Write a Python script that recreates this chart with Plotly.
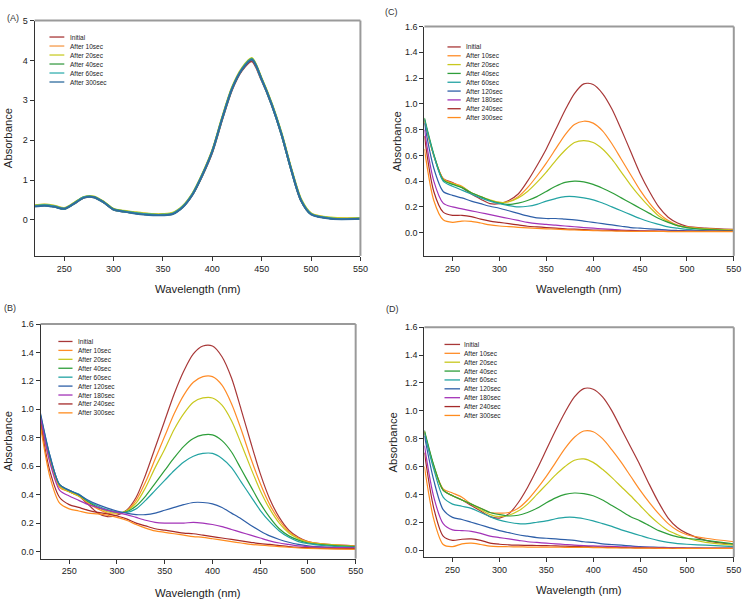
import plotly.graph_objects as go

W, H = 750, 599
FONT = "Liberation Sans, Arial, sans-serif"

WL = [220, 230, 240, 250, 260, 270, 280, 290, 300, 310, 320, 330, 340, 350, 360, 370,
      380, 390, 400, 410, 420, 430, 440, 450, 460, 470, 480, 490, 500, 520, 550]

NAMES_A = ["Initial", "After 10sec", "After 20sec", "After 40sec", "After 60sec", "After 300sec"]
NAMES_BCD = ["Initial", "After 10sec", "After 20sec", "After 40sec", "After 60sec",
             "After 120sec", "After 180sec", "After 240sec", "After 300sec"]

# ---------- Panel A ----------
A_INITIAL = [0.35,0.37,0.34,0.28,0.41,0.56,0.57,0.44,0.26,0.21,0.18,0.15,0.13,0.13,0.16,0.33,0.64,1.12,1.70,2.52,3.27,3.75,3.98,3.50,2.90,2.15,1.25,0.48,0.15,0.04,0.03]
A_10 = [0.36,0.38,0.35,0.29,0.42,0.57,0.58,0.45,0.27,0.22,0.19,0.16,0.14,0.14,0.17,0.34,0.66,1.15,1.74,2.56,3.31,3.79,4.03,3.53,2.92,2.17,1.27,0.50,0.16,0.05,0.04]
A_20 = [0.37,0.39,0.36,0.30,0.43,0.58,0.59,0.46,0.28,0.23,0.20,0.17,0.15,0.15,0.18,0.35,0.67,1.16,1.75,2.58,3.33,3.81,4.06,3.55,2.94,2.19,1.29,0.52,0.17,0.06,0.05]
A_40 = [0.35,0.37,0.34,0.28,0.42,0.57,0.58,0.45,0.27,0.22,0.18,0.15,0.13,0.13,0.16,0.33,0.65,1.14,1.73,2.55,3.30,3.78,4.04,3.53,2.91,2.16,1.26,0.49,0.15,0.04,0.03]
A_60 = [0.35,0.37,0.34,0.28,0.41,0.57,0.57,0.44,0.26,0.21,0.18,0.15,0.13,0.13,0.16,0.33,0.65,1.14,1.73,2.55,3.30,3.78,4.03,3.52,2.91,2.16,1.26,0.49,0.15,0.04,0.03]
A_300 = [0.34,0.36,0.33,0.28,0.41,0.56,0.57,0.44,0.26,0.21,0.17,0.14,0.12,0.12,0.15,0.32,0.64,1.13,1.72,2.54,3.29,3.77,4.02,3.52,2.90,2.15,1.25,0.48,0.14,0.03,0.03]

# ---------- Panel B ----------
B_INITIAL = [0.93,0.65,0.46,0.42,0.39,0.33,0.27,0.245,0.255,0.29,0.38,0.54,0.73,0.92,1.11,1.27,1.39,1.445,1.445,1.37,1.22,1.00,0.77,0.55,0.37,0.24,0.15,0.10,0.07,0.05,0.04]
B_10 = [0.90,0.63,0.45,0.42,0.39,0.34,0.30,0.27,0.265,0.285,0.36,0.49,0.65,0.81,0.97,1.10,1.19,1.23,1.23,1.17,1.04,0.86,0.66,0.48,0.33,0.22,0.14,0.095,0.07,0.05,0.04]
B_20 = [0.92,0.64,0.46,0.42,0.39,0.35,0.31,0.28,0.27,0.285,0.34,0.45,0.59,0.72,0.86,0.97,1.05,1.08,1.08,1.03,0.92,0.76,0.59,0.43,0.30,0.20,0.13,0.09,0.065,0.05,0.035]
B_40 = [0.95,0.66,0.47,0.43,0.40,0.35,0.31,0.29,0.275,0.28,0.32,0.39,0.48,0.57,0.66,0.74,0.795,0.82,0.82,0.78,0.70,0.58,0.46,0.34,0.24,0.16,0.11,0.08,0.06,0.045,0.035]
B_60 = [0.96,0.67,0.47,0.43,0.405,0.355,0.32,0.295,0.28,0.275,0.30,0.36,0.43,0.50,0.57,0.63,0.67,0.69,0.69,0.655,0.59,0.49,0.39,0.29,0.21,0.145,0.10,0.07,0.055,0.04,0.03]
B_120 = [0.97,0.67,0.47,0.43,0.40,0.36,0.33,0.305,0.285,0.27,0.26,0.26,0.27,0.29,0.31,0.33,0.345,0.345,0.335,0.31,0.27,0.23,0.185,0.145,0.11,0.085,0.065,0.05,0.04,0.03,0.025]
B_180 = [0.94,0.62,0.43,0.39,0.36,0.33,0.31,0.29,0.275,0.26,0.24,0.22,0.205,0.20,0.20,0.20,0.205,0.20,0.19,0.175,0.155,0.135,0.115,0.095,0.075,0.06,0.05,0.04,0.035,0.03,0.025]
B_240 = [0.90,0.56,0.38,0.33,0.31,0.29,0.275,0.265,0.25,0.23,0.20,0.18,0.16,0.15,0.14,0.13,0.125,0.115,0.105,0.095,0.085,0.075,0.065,0.055,0.05,0.042,0.035,0.03,0.027,0.022,0.02]
B_300 = [0.88,0.52,0.34,0.30,0.285,0.27,0.265,0.255,0.24,0.22,0.19,0.165,0.145,0.135,0.125,0.115,0.105,0.10,0.09,0.08,0.07,0.06,0.05,0.045,0.04,0.035,0.03,0.025,0.022,0.018,0.015]

# ---------- Panel C ----------
C_INITIAL = [0.88,0.60,0.42,0.39,0.35,0.30,0.26,0.225,0.225,0.25,0.30,0.40,0.52,0.65,0.80,0.95,1.08,1.155,1.15,1.08,0.96,0.80,0.63,0.46,0.32,0.20,0.12,0.075,0.05,0.035,0.025]
C_10 = [0.86,0.60,0.42,0.385,0.36,0.31,0.28,0.25,0.235,0.24,0.28,0.35,0.44,0.54,0.65,0.76,0.84,0.865,0.85,0.79,0.69,0.57,0.45,0.33,0.23,0.15,0.095,0.06,0.045,0.03,0.02]
C_20 = [0.87,0.60,0.41,0.38,0.355,0.31,0.28,0.255,0.235,0.24,0.27,0.32,0.39,0.47,0.56,0.64,0.70,0.715,0.70,0.65,0.57,0.47,0.37,0.28,0.20,0.13,0.085,0.055,0.04,0.03,0.02]
C_40 = [0.89,0.61,0.41,0.375,0.35,0.31,0.28,0.25,0.23,0.22,0.23,0.25,0.28,0.32,0.36,0.39,0.40,0.395,0.375,0.345,0.31,0.27,0.23,0.19,0.15,0.11,0.08,0.055,0.04,0.025,0.015]
C_60 = [0.88,0.60,0.40,0.36,0.33,0.30,0.27,0.245,0.225,0.21,0.20,0.205,0.22,0.245,0.265,0.28,0.28,0.27,0.255,0.23,0.20,0.17,0.14,0.11,0.085,0.065,0.045,0.035,0.025,0.015,0.01]
C_120 = [0.85,0.50,0.32,0.29,0.27,0.245,0.225,0.205,0.19,0.17,0.15,0.13,0.115,0.11,0.11,0.105,0.10,0.09,0.08,0.07,0.06,0.05,0.04,0.035,0.03,0.025,0.02,0.017,0.015,0.012,0.01]
C_180 = [0.80,0.40,0.23,0.20,0.185,0.17,0.155,0.14,0.125,0.11,0.095,0.08,0.07,0.065,0.058,0.052,0.046,0.04,0.035,0.03,0.025,0.02,0.018,0.015,0.013,0.012,0.011,0.01,0.01,0.01,0.01]
C_240 = [0.75,0.32,0.16,0.135,0.135,0.125,0.105,0.09,0.08,0.07,0.06,0.05,0.045,0.04,0.035,0.03,0.027,0.024,0.021,0.019,0.017,0.015,0.014,0.013,0.012,0.011,0.01,0.01,0.01,0.01,0.01]
C_300 = [0.65,0.25,0.10,0.08,0.09,0.088,0.075,0.06,0.052,0.047,0.042,0.037,0.033,0.03,0.027,0.024,0.021,0.018,0.016,0.014,0.013,0.012,0.011,0.01,0.01,0.01,0.009,0.009,0.008,0.008,0.008]

# ---------- Panel D ----------
D_INITIAL = [0.85,0.60,0.43,0.39,0.36,0.32,0.28,0.24,0.23,0.26,0.34,0.45,0.58,0.72,0.86,0.99,1.10,1.16,1.155,1.10,1.00,0.87,0.74,0.61,0.47,0.34,0.23,0.16,0.12,0.07,0.04]
D_10 = [0.84,0.60,0.44,0.41,0.38,0.33,0.30,0.27,0.265,0.27,0.30,0.36,0.44,0.53,0.63,0.73,0.81,0.855,0.85,0.80,0.72,0.63,0.53,0.43,0.34,0.26,0.19,0.14,0.11,0.085,0.06]
D_20 = [0.85,0.60,0.43,0.39,0.36,0.33,0.29,0.255,0.24,0.25,0.28,0.33,0.40,0.47,0.54,0.60,0.645,0.655,0.63,0.58,0.52,0.455,0.39,0.32,0.25,0.19,0.14,0.11,0.085,0.055,0.035]
D_40 = [0.86,0.61,0.43,0.39,0.36,0.33,0.30,0.27,0.255,0.245,0.25,0.27,0.30,0.34,0.375,0.40,0.41,0.405,0.39,0.36,0.32,0.28,0.24,0.21,0.175,0.14,0.115,0.095,0.085,0.07,0.045]
D_60 = [0.84,0.58,0.38,0.33,0.315,0.30,0.27,0.24,0.215,0.20,0.19,0.19,0.20,0.21,0.225,0.235,0.235,0.225,0.21,0.19,0.17,0.145,0.125,0.105,0.085,0.068,0.055,0.047,0.042,0.035,0.025]
D_120 = [0.82,0.50,0.29,0.235,0.22,0.20,0.18,0.16,0.14,0.125,0.11,0.10,0.09,0.085,0.08,0.075,0.07,0.06,0.055,0.045,0.04,0.035,0.03,0.025,0.022,0.02,0.018,0.016,0.015,0.013,0.012]
D_180 = [0.75,0.38,0.19,0.145,0.14,0.135,0.12,0.10,0.09,0.08,0.07,0.06,0.055,0.05,0.045,0.04,0.035,0.032,0.03,0.028,0.026,0.024,0.022,0.02,0.019,0.018,0.017,0.016,0.015,0.015,0.014]
D_240 = [0.70,0.30,0.10,0.07,0.078,0.08,0.07,0.05,0.042,0.038,0.035,0.034,0.033,0.032,0.03,0.028,0.026,0.024,0.022,0.02,0.019,0.018,0.017,0.016,0.015,0.014,0.013,0.013,0.012,0.012,0.012]
D_300 = [0.60,0.22,0.04,0.025,0.045,0.05,0.04,0.028,0.025,0.024,0.023,0.022,0.022,0.021,0.021,0.02,0.02,0.019,0.018,0.017,0.016,0.015,0.015,0.014,0.014,0.013,0.013,0.013,0.012,0.012,0.012]

X_TICKS = [250, 300, 350, 400, 450, 500, 550]
Y_TICKS_A = [0, 1, 2, 3, 4, 5]
Y_TICKS_BCD = [0.0, 0.2, 0.4, 0.6, 0.8, 1.0, 1.2, 1.4, 1.6]

COLORS_A = ["#A83838", "#F59A4A", "#C9CC2A", "#3C9E48", "#35AFAF", "#2F6C9E"]
COLORS_BCD = ["#A83838", "#FF8C28", "#C8C81E", "#2E9E3A", "#23A3A3",
              "#2E5FA8", "#A333B8", "#A52A2A", "#FF8C1E"]


def px(x):
    return x / W


def py(y):
    return 1 - y / H


# panel geometry in pixels: (left, right, top, bottom)
PANELS = {
    "A": dict(box=(35, 364.3, 15.7, 253), yr=[-0.9, 5], yt=Y_TICKS_A, fmt="",
              series=[A_INITIAL, A_10, A_20, A_40, A_60, A_300], names=NAMES_A,
              colors=COLORS_A, lw=2.0, label=(5, 13),
              leg=(50, 65, 69, 32.3, 9.07), ytitle_x=8, xtitle_y=286),
    "C": dict(box=(429, 741.7, 21.7, 253), yr=[-0.18, 1.6], yt=Y_TICKS_BCD, fmt=".1f",
              series=[C_INITIAL, C_10, C_20, C_40, C_60, C_120, C_180, C_240, C_300],
              names=NAMES_BCD, colors=COLORS_BCD, lw=1.2, label=(387, 7),
              leg=(452.3, 465.7, 469.3, 42.3, 8.9), ytitle_x=401.5, xtitle_y=286),
    "B": dict(box=(41, 359.5, 321.7, 558.3), yr=[-0.05, 1.6], yt=Y_TICKS_BCD, fmt=".1f",
              series=[B_INITIAL, B_10, B_20, B_40, B_60, B_120, B_180, B_240, B_300],
              names=NAMES_BCD, colors=COLORS_BCD, lw=1.2, label=(2, 306),
              leg=(59, 73.3, 76.7, 339.3, 9.0), ytitle_x=8, xtitle_y=592.5),
    "D": dict(box=(429, 741.7, 325, 556.7), yr=[-0.05, 1.6], yt=Y_TICKS_BCD, fmt=".1f",
              series=[D_INITIAL, D_10, D_20, D_40, D_60, D_120, D_180, D_240, D_300],
              names=NAMES_BCD, colors=COLORS_BCD, lw=1.2, label=(388, 306.5),
              leg=(449.3, 465, 467.3, 342.3, 8.95), ytitle_x=397.5, xtitle_y=590),
}

fig = go.Figure()
layout = dict(width=W, height=H, margin=dict(l=0, r=0, t=0, b=0),
              paper_bgcolor="white", plot_bgcolor="white", showlegend=False,
              font=dict(family=FONT, color="#222"))
annotations = []
shapes = []

for i, (key, p) in enumerate(PANELS.items(), start=1):
    sfx = "" if i == 1 else str(i)
    xa, ya = "x" + sfx, "y" + sfx
    l, r, t, b = p["box"]
    layout["xaxis" + sfx] = dict(
        domain=[px(l), px(r)], anchor=ya, range=[220, 550], tickvals=X_TICKS,
        showline=True, linecolor="#333", linewidth=1, ticks="outside", ticklen=4,
        tickcolor="#333", tickfont=dict(size=9, family=FONT, color="#222"),
        showgrid=False, zeroline=False)
    layout["yaxis" + sfx] = dict(
        domain=[py(b), py(t)], anchor=xa, range=p["yr"], tickvals=p["yt"],
        tickformat=p["fmt"], showline=True, linecolor="#333", linewidth=1,
        ticks="outside", ticklen=4, tickcolor="#333",
        tickfont=dict(size=9, family=FONT, color="#222"),
        showgrid=False, zeroline=False)
    for ys, nm, c in zip(p["series"], p["names"], p["colors"]):
        fig.add_trace(go.Scatter(x=WL, y=ys, name=nm, mode="lines", xaxis=xa, yaxis=ya,
                                 line=dict(color=c, width=p["lw"], shape="spline",
                                           smoothing=0.8)))
    # top & right frame
    shapes.append(dict(type="line", xref="paper", yref="paper", x0=px(l), x1=px(r),
                       y0=py(t), y1=py(t), line=dict(color="#9a9a9a", width=2)))
    shapes.append(dict(type="line", xref="paper", yref="paper", x0=px(r), x1=px(r),
                       y0=py(t), y1=py(b), line=dict(color="#9a9a9a", width=2)))
    # legend drawn manually
    lx0, lx1, tx, ly0, step = p["leg"]
    for k, (nm, c) in enumerate(zip(p["names"], p["colors"])):
        yy = ly0 + k * step
        shapes.append(dict(type="line", xref="paper", yref="paper", x0=px(lx0), x1=px(lx1),
                           y0=py(yy), y1=py(yy), line=dict(color=c, width=1.3)))
        annotations.append(dict(text=nm, xref="paper", yref="paper", x=px(tx), y=py(yy),
                                xanchor="left", yanchor="middle", showarrow=False,
                                font=dict(size=6.5, family=FONT, color="#222")))
    # panel label
    annotations.append(dict(text="(" + key + ")", xref="paper", yref="paper",
                            x=px(p["label"][0]), y=py(p["label"][1]), xanchor="left",
                            yanchor="middle", showarrow=False,
                            font=dict(size=9, family=FONT, color="#333")))
    # axis titles
    annotations.append(dict(text="Wavelength (nm)", xref="paper", yref="paper",
                            x=px((l + r) / 2), y=py(p["xtitle_y"]), xanchor="center",
                            yanchor="middle", showarrow=False,
                            font=dict(size=11.3, family=FONT, color="#222")))
    annotations.append(dict(text="Absorbance", xref="paper", yref="paper",
                            x=px(p["ytitle_x"]), y=py((t + b) / 2), xanchor="center",
                            yanchor="middle", textangle=-90, showarrow=False,
                            font=dict(size=11.3, family=FONT, color="#222")))

layout["annotations"] = annotations
layout["shapes"] = shapes
fig.update_layout(**layout)
fig.write_html("out.html")
